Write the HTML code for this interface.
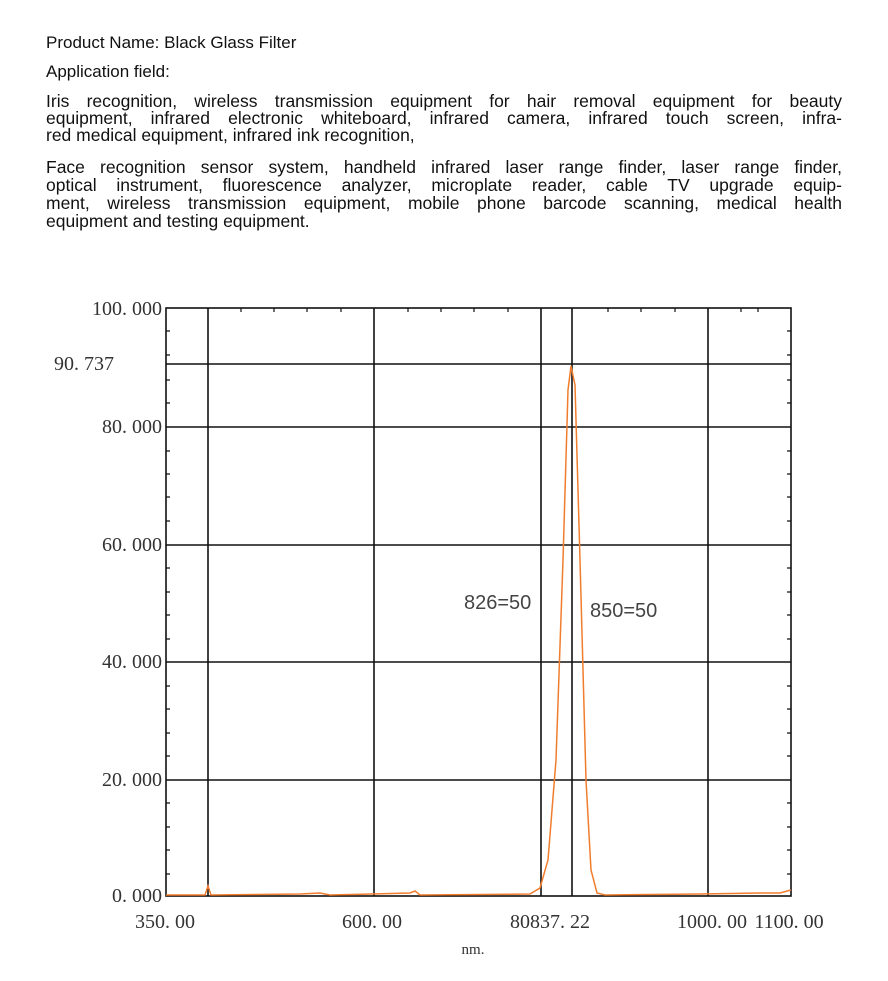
<!DOCTYPE html>
<html><head><style>
body{margin:0;background:#fff;width:888px;height:981px;overflow:hidden;font-family:"Liberation Sans","DejaVu Sans",sans-serif;color:#111}
.t{position:absolute;left:46px;width:796px;font-size:17px;white-space:nowrap}
.l{position:absolute;left:46px;width:796px;font-size:17.5px;text-align:justify;text-align-last:justify;line-height:18px;white-space:normal}
.e{text-align-last:left}
</style></head><body>
<div class="t" style="top:33px">Product Name: Black Glass Filter</div>
<div class="t" style="top:62px">Application field:</div>
<div class="l" style="top:92px">Iris recognition, wireless transmission equipment for hair removal equipment for beauty</div>
<div class="l" style="top:109px">equipment, infrared electronic whiteboard, infrared camera, infrared touch screen, infra-</div>
<div class="l e" style="top:126px">red medical equipment, infrared ink recognition,</div>
<div class="l" style="top:158px">Face recognition sensor system, handheld infrared laser range finder, laser range finder,</div>
<div class="l" style="top:176px">optical instrument, fluorescence analyzer, microplate reader, cable TV upgrade equip-</div>
<div class="l" style="top:194px">ment, wireless transmission equipment, mobile phone barcode scanning, medical health</div>
<div class="l e" style="top:212px">equipment and testing equipment.</div>
<svg width="888" height="981" style="position:absolute;left:0;top:0" font-family="Liberation Serif,serif" font-size="20" fill="#333">
<g stroke="#111" stroke-width="1.6" fill="none">
<rect x="166" y="308" width="625" height="588"/>
<line x1="208" y1="308" x2="208" y2="896"/>
<line x1="374" y1="308" x2="374" y2="896"/>
<line x1="541" y1="308" x2="541" y2="896"/>
<line x1="572" y1="308" x2="572" y2="896"/>
<line x1="708" y1="308" x2="708" y2="896"/>
<line x1="166" y1="364" x2="791" y2="364"/>
<line x1="166" y1="427" x2="791" y2="427"/>
<line x1="166" y1="545" x2="791" y2="545"/>
<line x1="166" y1="662" x2="791" y2="662"/>
<line x1="166" y1="780" x2="791" y2="780"/>
</g>
<g stroke="#111" stroke-width="1.2">
<path d="M166 331h4M166 355h4M166 380h4M166 403h4M166 451h4M166 474h4M166 497h4M166 521h4M166 568h4M166 592h4M166 615h4M166 639h4M166 686h4M166 709h4M166 733h4M166 756h4M166 803h4M166 827h4M166 850h4M166 874h4"/>
<path d="M791 331h-4M791 355h-4M791 380h-4M791 403h-4M791 451h-4M791 474h-4M791 497h-4M791 521h-4M791 568h-4M791 592h-4M791 615h-4M791 639h-4M791 686h-4M791 709h-4M791 733h-4M791 756h-4M791 803h-4M791 827h-4M791 850h-4M791 874h-4"/>
<path d="M241 308v4M274 308v4M307 308v4M341 308v4M408 308v4M441 308v4M474 308v4M508 308v4M608 308v4M641 308v4M675 308v4M741 308v4M758 308v4"/>
</g>
<path d="M166 895 L205 895 L208 886 L211 895 L300 894 L320 893 L330 895 L410 893 L415 891 L420 895 L530 894 L540 888 L548 860 L556 760 L563 560 L568 390 L571 366 L575 385 L580 560 L586 780 L591 870 L597 893 L605 895 L700 894 L760 893 L780 893 L791 890" stroke="#f07d2e" stroke-width="1.5" fill="none"/>
<g text-anchor="end">
<text x="162" y="315">100. 000</text>
<text x="114" y="370">90. 737</text>
<text x="162" y="433">80. 000</text>
<text x="162" y="551">60. 000</text>
<text x="162" y="668">40. 000</text>
<text x="162" y="786">20. 000</text>
<text x="162" y="902">0. 000</text>
</g>
<g text-anchor="middle">
<text x="165" y="928">350. 00</text>
<text x="372" y="928">600. 00</text>
<text x="550" y="928">80837. 22</text>
<text x="712" y="928">1000. 00</text>
<text x="789" y="928">1100. 00</text>
<text x="473" y="954" font-size="15">nm.</text>
</g>
<g font-family="Liberation Sans,sans-serif" font-size="20" fill="#444">
<text x="464" y="609">826=50</text>
<text x="590" y="617">850=50</text>
</g>
</svg>
</body></html>
